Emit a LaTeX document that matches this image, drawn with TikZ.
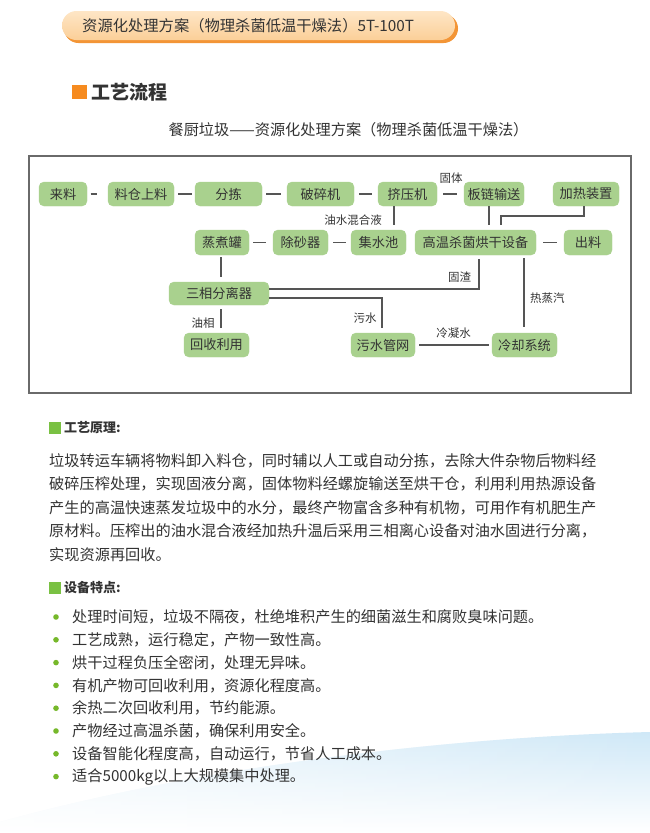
\documentclass[tikz,border=0pt]{standalone}
\usepackage{fontspec}
\setmainfont{Noto Sans CJK SC}
\usetikzlibrary{calc,fadings}
\definecolor{nodegreen}{HTML}{A9D18E}
\definecolor{txtgray}{HTML}{333333}
\definecolor{linegray}{HTML}{555555}
\definecolor{framegray}{HTML}{6A6A6A}
\definecolor{sqorange}{HTML}{F68B1F}
\definecolor{sqgreen}{HTML}{7AC143}
\definecolor{dotgreen}{HTML}{76B82A}
\definecolor{peachtop}{HTML}{FEE6C6}
\definecolor{peachbot}{HTML}{FBCF98}
\definecolor{bannershadow}{HTML}{F39536}
\definecolor{waveblue}{HTML}{CFE8F7}
\tikzfading[name=fadeleftwhite, left color=transparent!0, right color=transparent!100]
\begin{document}
\begin{tikzpicture}[x=1pt,y=-1pt,
  box/.style={draw=nodegreen, fill=nodegreen, rounded corners=5pt, text=txtgray,
    font=\fontsize{13.2}{13.2}\selectfont, inner sep=0pt, minimum height=24pt},
  lbl/.style={text=txtgray, font=\fontsize{11.5}{11.5}\selectfont, inner sep=0pt},
  conn/.style={draw=linegray, line width=1.1pt},
  para/.style={anchor=west, text=txtgray, font=\fontsize{15.2}{15.2}\selectfont, inner sep=0pt},
  sechead/.style={anchor=west, text=txtgray, font=\fontsize{13}{13}\selectfont\bfseries, inner sep=0pt}]
\useasboundingbox (0,0) rectangle (650,833);
\fill[white] (0,0) rectangle (650,833);
% background wave
\shade[top color=waveblue, bottom color=white]
  (0,833) -- (0,822) .. controls (180,772) and (420,738) .. (650,732) -- (650,833) -- cycle;
\fill[white, opacity=0.7, path fading=fadeleftwhite]
  (0,833) -- (0,822) .. controls (180,772) and (420,738) .. (650,732) -- (650,833) -- cycle;
% banner
\fill[bannershadow, rounded corners=14.5pt] (64,14) rectangle (458,43);
\shade[top color=peachtop, bottom color=peachbot, rounded corners=14.5pt] (62,11) rectangle (455,40);
\node[anchor=west, text=txtgray, font=\fontsize{15.3}{15.3}\selectfont, inner sep=0pt] (bannertxt) at (82,26)
  {资源化处理方案（物理杀菌低温干燥法）5T-100T};
% heading
\fill[sqorange] (72,85) rectangle (87,99);
\node[anchor=west, text=txtgray, font=\fontsize{19}{19}\selectfont\bfseries, inner sep=0pt] (head1) at (91,92) {工艺流程};
\node[text=txtgray, font=\fontsize{15.2}{15.2}\selectfont, inner sep=0pt] (subt) at (348.5,130)
  {餐厨垃圾——资源化处理方案（物理杀菌低温干燥法）};
% frame
\draw[framegray, line width=1.3pt] (29,156) rectangle (631,393);
% row 1
\node[box, minimum width=48pt] (lai) at (63,194) {来料};
\node[box, minimum width=66pt] (lc) at (141,194) {料仓上料};
\node[box, minimum width=67pt] (fj) at (228.5,194) {分拣};
\node[box, minimum width=67pt] (psj) at (320.5,194) {破碎机};
\node[box, minimum width=59pt] (jyj) at (407.5,194) {挤压机};
\node[box, minimum width=60pt] (bl) at (494,194) {板链输送};
\node[box, minimum width=66pt] (jr) at (586,194) {加热装置};
% row 2
\node[box, minimum width=54pt, minimum height=25pt] (zz) at (222,242.5) {蒸煮罐};
\node[box, minimum width=55pt, minimum height=25pt] (cs) at (300.5,242.5) {除砂器};
\node[box, minimum width=55pt, minimum height=25pt] (js) at (378.5,242.5) {集水池};
\node[box, minimum width=121pt, minimum height=25pt] (gw) at (475.5,242.5) {高温杀菌烘干设备};
\node[box, minimum width=48pt, minimum height=25pt] (cl) at (588,242.5) {出料};
% row 3
\node[box, minimum width=100pt, minimum height=23pt] (sx) at (219,293.5) {三相分离器};
% row 4
\node[box, minimum width=65pt] (hs) at (216.5,345) {回收利用};
\node[box, minimum width=64pt] (ws) at (383,345) {污水管网};
\node[box, minimum width=65pt] (lq) at (524.5,345) {冷却系统};
% helper coordinates
\coordinate (xa) at (394,0);
\coordinate (xb) at (489,0);
\coordinate (xc) at (584,0);
\coordinate (xd) at (501,0);
\coordinate (xe) at (221,0);
\coordinate (xf) at (479,0);
\coordinate (xg) at (382,0);
\coordinate (xh) at (524,0);
\coordinate (ya) at (0,216);
\coordinate (yb) at (0,289);
\coordinate (yc) at (0,298);
% short dashes
\draw[conn, shorten <=3.5pt, shorten >=11pt] (lai) -- (lc);
\draw[conn, shorten <=4pt, shorten >=3pt] (lc) -- (fj);
\draw[conn, shorten <=4pt, shorten >=6pt] (fj) -- (psj);
\draw[conn, shorten <=5pt, shorten >=6pt] (psj) -- (jyj);
\draw[conn, shorten <=6pt, shorten >=7pt] (jyj) -- (bl);
\draw[conn, shorten <=4pt, shorten >=7pt] (zz) -- (cs);
\draw[conn, shorten <=5pt, shorten >=5pt] (cs) -- (js);
\draw[conn, shorten <=7pt, shorten >=7pt] (gw) -- (cl);
% vertical / routed connectors
\draw[conn, shorten >=5pt] (jyj.south -| xa) -- (js.north -| xa);
\draw[conn, shorten >=5pt] (bl.south -| xb) -- (gw.north -| xb);
\draw[conn, shorten >=5pt] (jr.south -| xc) -- (xc |- ya) -- (xd |- ya) -- (gw.north -| xd);
\draw[conn, shorten <=2pt, shorten >=5pt] (zz.south -| xe) -- (sx.north -| xe);
\draw[conn, shorten >=4pt] (sx.east |- yb) -- (xf |- yb) -- (gw.south -| xf);
\draw[conn, shorten >=5pt] (sx.east |- yc) -- (xg |- yc) -- (ws.north -| xg);
\draw[conn, shorten <=4pt, shorten >=5pt] (sx.south -| xe) -- (hs.north -| xe);
\draw[conn, shorten <=3pt, shorten >=6pt] (gw.south -| xh) -- (lq.north -| xh);
\draw[conn, shorten <=4pt, shorten >=3pt] (ws) -- (lq);
% connector labels
\node[lbl] (l1) at (451,178) {固体};
\node[lbl] (l2) at (353,220) {油水混合液};
\node[lbl] (l3) at (459.5,277) {固渣};
\node[lbl] (l4) at (365,318) {污水};
\node[lbl] (l5) at (203,323) {油相};
\node[lbl] (l6) at (453.5,333) {冷凝水};
\node[lbl, anchor=west] (l7) at (530,298) {热蒸汽};
% section 1
\fill[sqgreen] (49,422) rectangle (61,434);
\node[sechead] (s1) at (64,428) {工艺原理:};
\node[para] (p1) at (49,461) {垃圾转运车辆将物料卸入料仓，同时辅以人工或自动分拣，去除大件杂物后物料经};
\node[para] (p2) at (49,484.3) {破碎压榨处理，实现固液分离，固体物料经螺旋输送至烘干仓，利用利用热源设备};
\node[para] (p3) at (49,507.6) {产生的高温快速蒸发垃圾中的水分，最终产物富含多种有机物，可用作有机肥生产};
\node[para] (p4) at (49,531) {原材料。压榨出的油水混合液经加热升温后采用三相离心设备对油水固进行分离，};
\node[para] (p5) at (49,554.3) {实现资源再回收。};
% section 2
\fill[sqgreen] (49,582) rectangle (61,594);
\node[sechead] (s2) at (64,588) {设备特点:};
\foreach \t [count=\i from 0] in {处理时间短，垃圾不隔夜，杜绝堆积产生的细菌滋生和腐败臭味问题。,
  工艺成熟，运行稳定，产物一致性高。,
  烘干过程负压全密闭，处理无异味。,
  有机产物可回收利用，资源化程度高。,
  余热二次回收利用，节约能源。,
  产物经过高温杀菌，确保利用安全。,
  设备智能化程度高，自动运行，节省人工成本。,
  适合5000kg以上大规模集中处理。}{
  \fill[dotgreen] (56,617+22.8*\i) circle (2.8pt);
  \node[para] (b\i) at (72,617+22.8*\i) {\t};
}
\end{tikzpicture}
\end{document}
